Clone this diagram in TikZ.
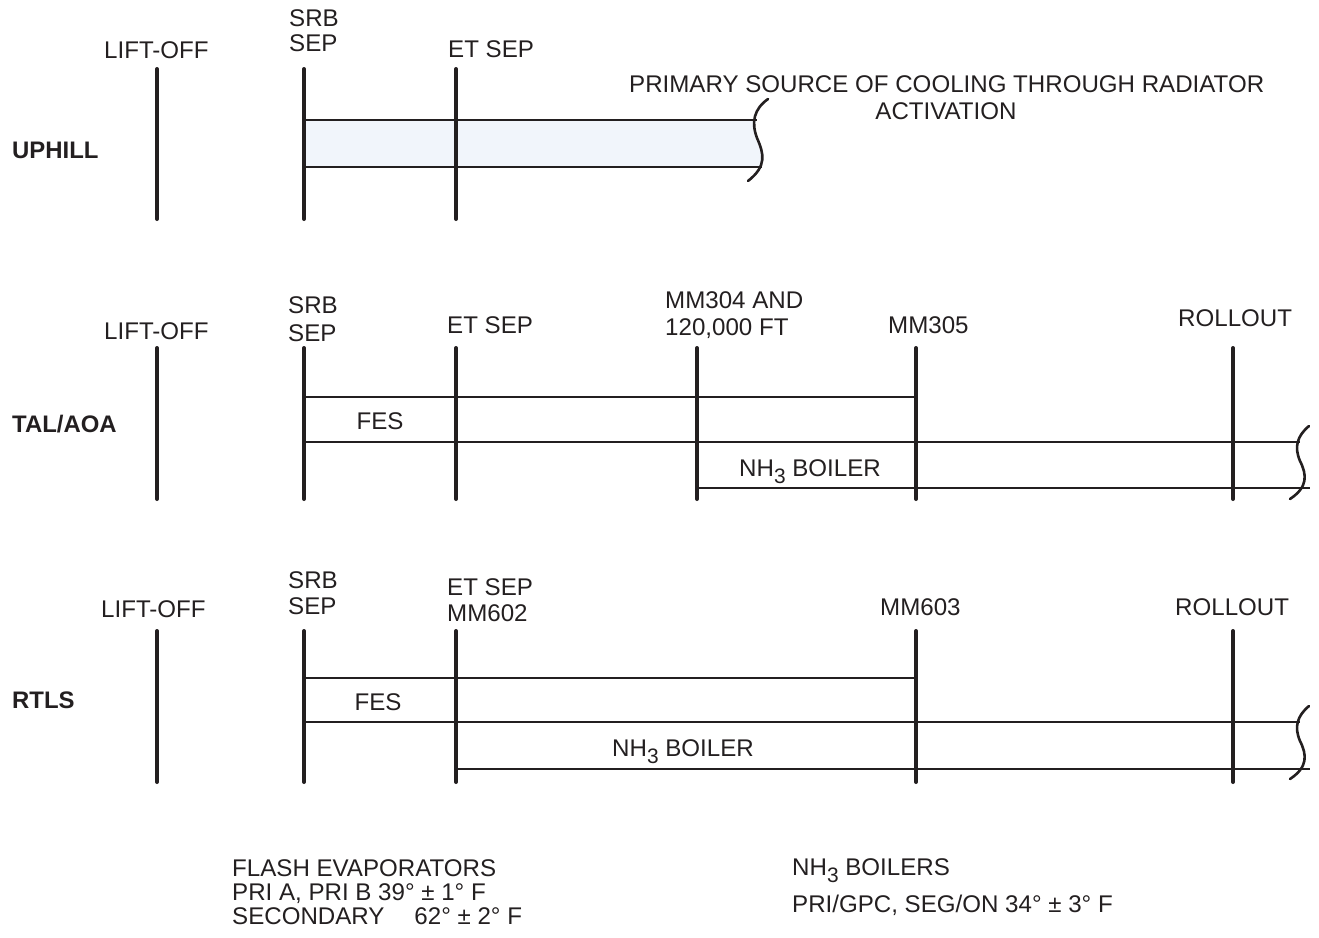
\documentclass[tikz,border=0pt]{standalone}
\usepackage{fontspec}
\setmainfont{Liberation Sans}
\definecolor{ink}{HTML}{231F20}
\definecolor{lightfill}{HTML}{F1F5FB}
\newcommand{\nhthree}{NH\raisebox{-7bp}{\fontsize{21}{21}\selectfont 3}}
\begin{document}
\begin{tikzpicture}[x=1bp,y=-1bp,
  txt/.style={inner sep=0pt, anchor=base west, text=ink, font=\fontsize{24.2}{26}\selectfont},
  ctxt/.style={txt, anchor=base},
  rowlbl/.style={txt, font=\fontsize{24}{26}\selectfont\bfseries},
  tick/.style={draw=ink, line width=4bp, line cap=round},
  bar/.style={draw=ink, line width=2.3bp},
  wave/.style={draw=ink, line width=2.6bp, line cap=round}]
\useasboundingbox (0,0) rectangle (1319,937);

% ---------------- UPHILL ----------------
\fill[lightfill] (304,120) -- (757,120) .. controls (752,128) and (753,134) .. (758,145) .. controls (762,153) and (764,160) .. (761,167) -- (304,167) -- cycle;
\draw[bar] (304,120) -- (757,120);
\draw[bar] (304,167) -- (762,167);
\draw[wave] (768,99) .. controls (754,109) and (751,122) .. (757,138) .. controls (764,154) and (767,166) .. (748,181);
\foreach \x/\n in {157/ua,304/ub,456/uc} {
  \coordinate (\n t) at (\x,69);
  \coordinate (\n b) at (\x,219);
  \draw[tick] (\n t) -- (\n b);
}
\node[txt] (uliftoff) at (104,58) {LIFT-OFF};
\node[txt] (usrb) at (289,26) {SRB};
\node[txt] (usep) at (289,51) {SEP};
\node[txt] (uetsep) at (448,57) {ET SEP};
\node[txt] (uprim) at (629,92) {PRIMARY SOURCE OF COOLING THROUGH RADIATOR};
\node[ctxt] (uact) at (946,119) {ACTIVATION};
\node[rowlbl] (uphill) at (12,158) {UPHILL};

% ---------------- TAL/AOA ----------------
\foreach \x/\n in {157/ta,304/tb,456/tc,697/td,916/te,1233/tf} {
  \coordinate (\n t) at (\x,348);
  \coordinate (\n b) at (\x,499);
  \draw[tick] (\n t) -- (\n b);
}
\draw[bar] (304,397) -- (916,397);
\draw[bar] (304,442) -- (1300,442);
\draw[bar] (697,488) -- (1310,488);
\draw[wave] (1309,426) .. controls (1297,436) and (1294,447) .. (1300,461) .. controls (1307,475) and (1308,487) .. (1290,499);
\node[txt] (tliftoff) at (104,339) {LIFT-OFF};
\node[txt] (tsrb) at (288,313) {SRB};
\node[txt] (tsep) at (288,341) {SEP};
\node[txt] (tetsep) at (447,333) {ET SEP};
\node[txt] (tmma) at (665,308) {MM304 AND};
\node[txt] (tmmb) at (665,335) {120,000 FT};
\node[txt] (tmmc) at (888,333) {MM305};
\node[txt] (troll) at (1178,326) {ROLLOUT};
\node[ctxt] (tfes) at (380,429) {FES};
\node[ctxt] (tnh) at (810,476) {\nhthree{} BOILER};
\node[rowlbl] (tal) at (12,432) {TAL/AOA};

% ---------------- RTLS ----------------
\foreach \x/\n in {157/ra,304/rb,456/rc,916/re,1233/rf} {
  \coordinate (\n t) at (\x,631);
  \coordinate (\n b) at (\x,782);
  \draw[tick] (\n t) -- (\n b);
}
\draw[bar] (304,678) -- (916,678);
\draw[bar] (304,722) -- (1300,722);
\draw[bar] (456,769) -- (1310,769);
\draw[wave] (1309,706) .. controls (1297,716) and (1294,727) .. (1300,741) .. controls (1307,755) and (1308,767) .. (1290,779);
\node[txt] (rliftoff) at (101,617) {LIFT-OFF};
\node[txt] (rsrb) at (288,588) {SRB};
\node[txt] (rsep) at (288,614) {SEP};
\node[txt] (retsep) at (447,595) {ET SEP};
\node[txt] (rmm) at (447,621) {MM602};
\node[txt] (rmmb) at (880,615) {MM603};
\node[txt] (rroll) at (1175,615) {ROLLOUT};
\node[ctxt] (rfes) at (378,710) {FES};
\node[ctxt] (rnh) at (683,756) {\nhthree{} BOILER};
\node[rowlbl] (rtls) at (12,708) {RTLS};

% ---------------- notes ----------------
\node[txt] (fa) at (232,876) {FLASH EVAPORATORS};
\node[txt] (fb) at (232,900) {PRI A, PRI B 39° ± 1° F};
\node[txt] (fc) at (232,924) {SECONDARY\hspace{30bp}62° ± 2° F};
\node[txt] (na) at (792,875) {\nhthree{} BOILERS};
\node[txt] (nb) at (792,912) {PRI/GPC, SEG/ON 34° ± 3° F};
\end{tikzpicture}
\end{document}
